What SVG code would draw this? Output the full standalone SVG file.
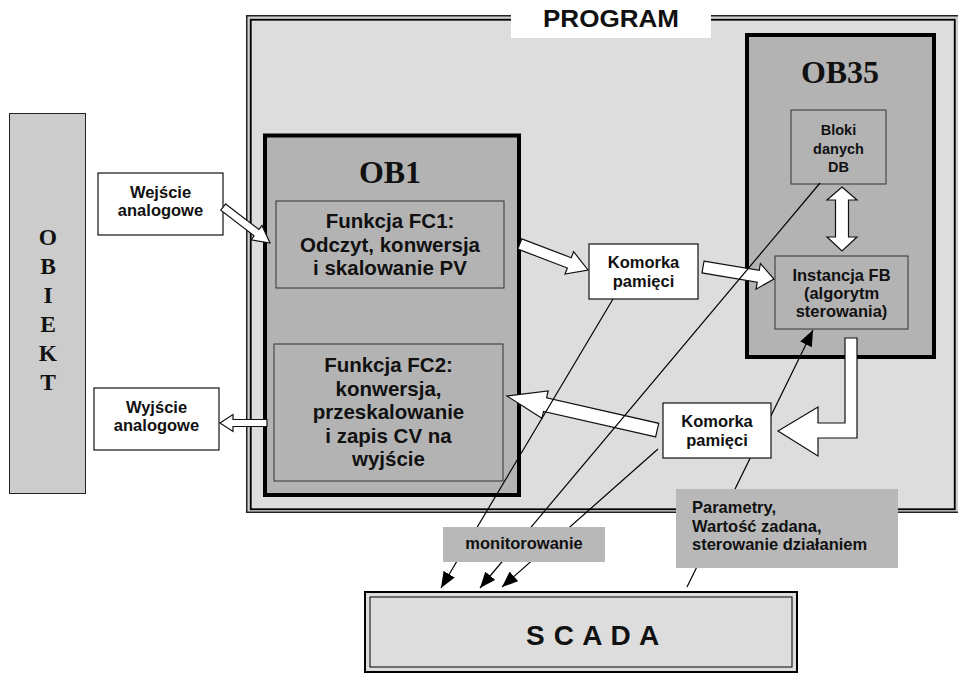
<svg xmlns="http://www.w3.org/2000/svg" width="958" height="674" viewBox="0 0 958 674">
<style>
.sans{font-family:"Liberation Sans",Arial,sans-serif;font-weight:bold;fill:#111}
.serif{font-family:"Liberation Serif","Times New Roman",serif;font-weight:bold;fill:#111}
.wbox{fill:#fff;stroke:#111;stroke-width:1.2}
.gbox{fill:#b3b3b3;stroke:#333;stroke-width:1}
.ob{fill:#b3b3b3;stroke:#000;stroke-width:4}
.blk{fill:#fff;stroke:#111;stroke-width:1.2;stroke-linejoin:miter}
.thin{fill:none;stroke:#000;stroke-width:1.2}
.lbl{fill:#b8b8b8}
</style>
<defs>
<marker id="ah" markerWidth="16" markerHeight="13" refX="16" refY="6.5" orient="auto" markerUnits="userSpaceOnUse">
<path d="M0,0 L16,6.5 L0,13 z" fill="#000"/>
</marker>
</defs>
<rect width="958" height="674" fill="#fff"/>

<g id="program">
<rect x="246.75" y="15.75" width="712" height="496.5" fill="#cfcfcf" stroke="#222" stroke-width="1.5"/>
<rect x="250.75" y="19.75" width="704" height="489.5" fill="#dddddd" stroke="#000" stroke-width="1.8"/>
<rect x="511" y="0" width="200" height="38" fill="#fff"/>
<text class="sans" x="611" y="27" font-size="24" text-anchor="middle" textLength="136" lengthAdjust="spacingAndGlyphs">PROGRAM</text>
</g>

<g id="obiekt">
<rect x="9.5" y="113.5" width="76" height="380" fill="#cccccc" stroke="#222" stroke-width="1"/>
<g class="serif" font-size="23.5" text-anchor="middle">
<text x="48" y="245">O</text>
<text x="48" y="274">B</text>
<text x="48" y="303">I</text>
<text x="48" y="332">E</text>
<text x="48" y="361">K</text>
<text x="48" y="390">T</text>
</g>
</g>

<g id="wejscie">
<rect class="wbox" x="98" y="173" width="125" height="62"/>
<text class="sans" font-size="16.5" text-anchor="middle"><tspan x="160.5" y="197.5">Wejście</tspan><tspan x="160.5" y="216">analogowe</tspan></text>
</g>

<g id="wyjscie">
<rect class="wbox" x="94" y="388" width="125" height="62"/>
<text class="sans" font-size="16.5" text-anchor="middle"><tspan x="156.5" y="412.5">Wyjście</tspan><tspan x="156.5" y="431">analogowe</tspan></text>
</g>

<g id="ob1">
<rect class="ob" x="265" y="135.5" width="254" height="359.5"/>
<text class="serif" x="390" y="183" font-size="32" text-anchor="middle">OB1</text>
</g>

<g id="fc1">
<rect class="gbox" x="276" y="201" width="228" height="87"/>
<text class="sans" font-size="20.5" text-anchor="middle"><tspan x="390" y="228">Funkcja FC1:</tspan><tspan x="390" y="252">Odczyt, konwersja</tspan><tspan x="390" y="275">i skalowanie PV</tspan></text>
</g>

<g id="fc2">
<rect class="gbox" x="274" y="344" width="229" height="137"/>
<text class="sans" font-size="20.5" text-anchor="middle"><tspan x="388.5" y="372">Funkcja FC2:</tspan><tspan x="388.5" y="395.5">konwersja,</tspan><tspan x="388.5" y="419">przeskalowanie</tspan><tspan x="388.5" y="442.5">i zapis CV na</tspan><tspan x="388.5" y="466">wyjście</tspan></text>
</g>

<g id="ob35">
<rect class="ob" x="747" y="35" width="187" height="322"/>
<text class="serif" x="840" y="83" font-size="32" text-anchor="middle">OB35</text>
</g>

<g id="bloki">
<rect class="gbox" x="791" y="110" width="95" height="74" stroke="#111"/>
<text class="sans" font-size="14.5" text-anchor="middle"><tspan x="838.5" y="135">Bloki</tspan><tspan x="838.5" y="153.5">danych</tspan><tspan x="838.5" y="172">DB</tspan></text>
</g>

<g id="instancja">
<rect class="gbox" x="775" y="256" width="133" height="73" stroke="#111"/>
<text class="sans" font-size="16.5" text-anchor="middle"><tspan x="841.5" y="281">Instancja FB</tspan><tspan x="841.5" y="299">(algorytm</tspan><tspan x="841.5" y="317">sterowania)</tspan></text>
</g>

<g id="scada">
<rect x="365" y="592" width="432" height="80" fill="#dddddd" stroke="#000" stroke-width="2"/>
<rect x="370" y="597" width="422" height="70" fill="none" stroke="#000" stroke-width="1"/>
<text class="sans" x="526" y="645" font-size="28" letter-spacing="0.7">S C A D A</text>
</g>

<g id="connectors">
<polygon class="blk" transform="translate(270,243) rotate(37.5)" points="-59,-4 -17,-4 -17,-9 0,0 -17,9 -17,4 -59,4"/>
<polygon class="blk" transform="translate(588,270) rotate(20.9)" points="-73,-5.5 -20,-5.5 -20,-12 0,0 -20,12 -20,5.5 -73,5.5"/>
<polygon class="blk" transform="translate(774,279) rotate(9.6)" points="-72,-6 -16,-6 -16,-13 0,0 -16,13 -16,6 -72,6"/>
<polygon class="blk" transform="translate(507,396) rotate(192.8)" points="-154,-7 -39,-7 -39,-14 0,0 -39,14 -39,7 -154,7"/>
<polygon class="blk" transform="translate(220,423) rotate(180)" points="-47,-3.5 -13,-3.5 -13,-8.5 0,0 -13,8.5 -13,3.5 -47,3.5"/>
<polygon class="blk" points="842,187 857,200 848.5,200 848.5,237 857,237 842,251 827,237 835.5,237 835.5,200 827,200"/>
<polygon class="blk" points="845,338 857,338 857,438 818,438 818,456 778,431 818,407 818,423 845,423"/>
<line class="thin" x1="613" y1="299" x2="441" y2="588" marker-end="url(#ah)"/>
<line class="thin" x1="820" y1="183" x2="480" y2="588" marker-end="url(#ah)"/>
<line class="thin" x1="658" y1="449" x2="502" y2="587" marker-end="url(#ah)"/>
<line class="thin" x1="687" y1="587" x2="813" y2="330" marker-end="url(#ah)"/>
</g>

<g id="komorka1">
<rect class="wbox" x="589" y="244" width="109" height="55"/>
<text class="sans" font-size="16.5" text-anchor="middle"><tspan x="643.5" y="268">Komorka</tspan><tspan x="643.5" y="287">pamięci</tspan></text>
</g>

<g id="komorka2">
<rect class="wbox" x="663" y="403" width="108" height="55"/>
<text class="sans" font-size="16.5" text-anchor="middle"><tspan x="717" y="427">Komorka</tspan><tspan x="717" y="446">pamięci</tspan></text>
</g>

<g id="monitorowanie">
<rect class="lbl" x="443" y="527" width="162" height="35"/>
<text class="sans" x="524" y="549" font-size="16.5" text-anchor="middle">monitorowanie</text>
</g>

<g id="parametry">
<rect class="lbl" x="676" y="489" width="222" height="79"/>
<text class="sans" font-size="16.5"><tspan x="692" y="513">Parametry,</tspan><tspan x="692" y="532">Wartość zadana,</tspan><tspan x="692" y="550">sterowanie działaniem</tspan></text>
</g>
</svg>
